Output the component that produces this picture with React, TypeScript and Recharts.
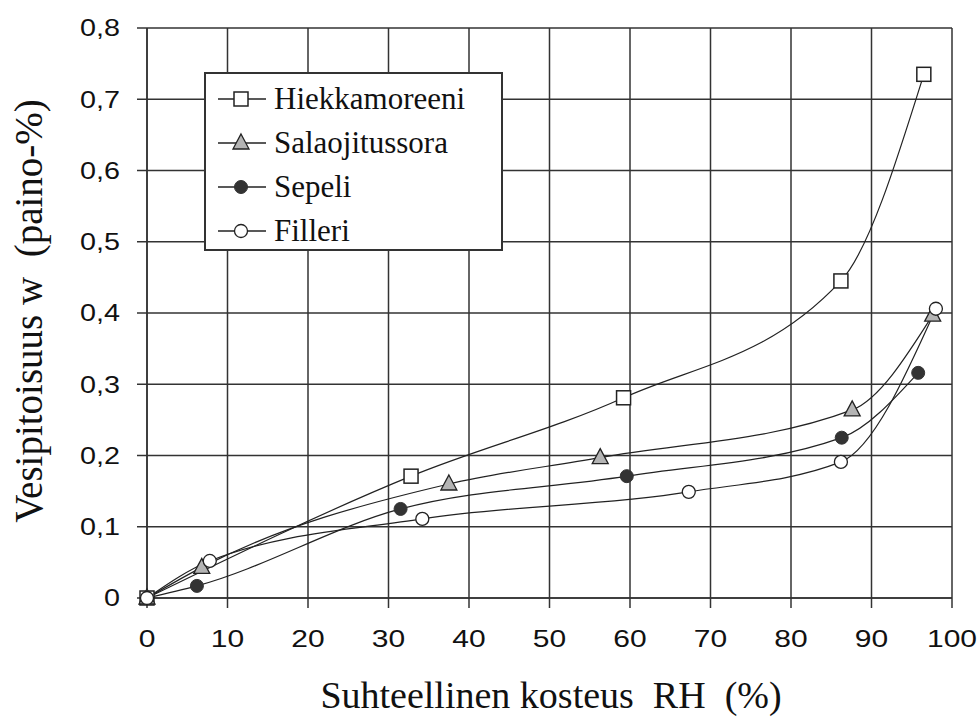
import React from "react"
import { CartesianGrid, Line, LineChart, XAxis, YAxis } from "recharts"

// values (RH %, water content paino-%)
const rhHiekka = [0, 32.8, 59.2, 86.2, 96.5]
const wHiekka = [0, 0.171, 0.281, 0.445, 0.735]

const rhSalao = [0, 6.8, 37.5, 56.3, 87.6, 97.6]
const wSalao = [0, 0.043, 0.16, 0.197, 0.264, 0.397]

const rhSepeli = [0, 6.2, 31.5, 59.6, 86.3, 95.8]
const wSepeli = [0, 0.017, 0.125, 0.171, 0.225, 0.316]

const rhFilleri = [0, 7.8, 34.2, 67.3, 86.2, 98.0]
const wFilleri = [0, 0.052, 0.111, 0.149, 0.191, 0.406]

const rhTicks = [0, 10, 20, 30, 40, 50, 60, 70, 80, 90, 100]
const wTicks = [0, 0.1, 0.2, 0.3, 0.4, 0.5, 0.6, 0.7, 0.8]

const seriesNames = ["Hiekkamoreeni", "Salaojitussora", "Sepeli", "Filleri"]

const toPoints = (xs: number[], ys: number[]) => xs.map((x, i) => ({ x, w: ys[i] }))

const hiekka = toPoints(rhHiekka, wHiekka)
const salao = toPoints(rhSalao, wSalao)
const sepeli = toPoints(rhSepeli, wSepeli)
const filleri = toPoints(rhFilleri, wFilleri)

const INK = "#222"
const GRID = "#333"
const SERIF = "'Liberation Serif', 'Times New Roman', serif"
const SANS = "'Liberation Sans', Arial, sans-serif"

function Marker({ kind, cx, cy }: { kind: number; cx: number; cy: number }) {
  if (kind === 0)
    return <rect x={cx - 7} y={cy - 7} width={14} height={14} fill="#fff" stroke={INK} strokeWidth={1.5} />
  if (kind === 1)
    return (
      <polygon
        points={`${cx},${cy - 9} ${cx + 8},${cy + 6} ${cx - 8},${cy + 6}`}
        fill="#b4b4b4"
        stroke={INK}
        strokeWidth={1.3}
      />
    )
  if (kind === 2) return <circle cx={cx} cy={cy} r={6.5} fill="#333" stroke="#333" />
  return <circle cx={cx} cy={cy} r={6.5} fill="#fff" stroke={INK} strokeWidth={1.3} />
}

const dotFor = (kind: number) => (p: any) =>
  <Marker key={`d${kind}-${p.index}`} kind={kind} cx={p.cx} cy={p.cy} />

function StretchTick(props: any) {
  const { x, y, payload, orientation } = props
  const left = orientation === "left"
  const label = left
    ? (payload.value === 0 ? "0" : payload.value.toFixed(1).replace(".", ","))
    : String(payload.value)
  return (
    <g transform={`translate(${x},${y})`}>
      <text
        transform="scale(1.25,1)"
        textAnchor={left ? "end" : "middle"}
        dy={left ? "0.36em" : "0.72em"}
        fontFamily={SANS}
        fontSize={left ? 23 : 24}
        fill="#111"
      >
        {label}
      </text>
    </g>
  )
}

function LegendBox() {
  return (
    <div
      style={{
        position: "absolute",
        left: 204,
        top: 72,
        width: 295,
        height: 175,
        border: "2px solid #333",
        background: "#fff",
      }}
    >
      {seriesNames.map((name, i) => (
        <div
          key={name}
          style={{ position: "absolute", left: 10, top: 5 + i * 44, height: 40, display: "flex", alignItems: "center" }}
        >
          <svg width={52} height={24}>
            <line x1={2} y1={12} x2={50} y2={12} stroke={INK} strokeWidth={1.3} />
            <Marker kind={i} cx={25} cy={12} />
          </svg>
          <span style={{ fontFamily: SERIF, fontSize: 31, color: "#111", marginLeft: 6, lineHeight: "40px" }}>{name}</span>
        </div>
      ))}
    </div>
  )
}

export default function App() {
  return (
    <div style={{ position: "fixed", left: 0, top: 0, background: "#fff", width: 980, height: 720 }}>
      <LineChart width={980} height={720} margin={{ top: 28, right: 28, bottom: 0, left: 0 }}>
        <CartesianGrid stroke={GRID} strokeWidth={1.5} />
        <XAxis
          type="number"
          dataKey="x"
          domain={[0, 100]}
          ticks={rhTicks}
          interval={0}
          height={122}
          tickSize={10}
          tickMargin={22}
          axisLine={{ stroke: GRID, strokeWidth: 1.5 }}
          tickLine={{ stroke: GRID, strokeWidth: 1.5 }}
          tick={<StretchTick orientation="bottom" />}
          label={{
            content: () => (
              <text x={551} y={708} textAnchor="middle" style={{ whiteSpace: "pre", fontFamily: SERIF, fontSize: 38, fill: "#111" }}>
                {"Suhteellinen kosteus  RH  (%)"}
              </text>
            ),
          }}
        />
        <YAxis
          type="number"
          dataKey="w"
          domain={[0, 0.8]}
          ticks={wTicks}
          interval={0}
          width={147}
          tickSize={10}
          tickMargin={17}
          axisLine={{ stroke: GRID, strokeWidth: 1.5 }}
          tickLine={{ stroke: GRID, strokeWidth: 1.5 }}
          tick={<StretchTick orientation="left" />}
          label={{
            content: () => (
              <text
                x={0}
                y={0}
                transform="translate(42,311) rotate(-90)"
                textAnchor="middle"
                style={{ whiteSpace: "pre", fontFamily: SERIF, fontSize: 39, fill: "#111" }}
              >
                {"Vesipitoisuus w  (paino-%)"}
              </text>
            ),
          }}
        />
        <Line data={hiekka} dataKey="w" name={seriesNames[0]} type="monotone" stroke={INK} strokeWidth={1.2} dot={dotFor(0)} activeDot={false} isAnimationActive={false} />
        <Line data={salao} dataKey="w" name={seriesNames[1]} type="monotone" stroke={INK} strokeWidth={1.2} dot={dotFor(1)} activeDot={false} isAnimationActive={false} />
        <Line data={sepeli} dataKey="w" name={seriesNames[2]} type="monotone" stroke={INK} strokeWidth={1.2} dot={dotFor(2)} activeDot={false} isAnimationActive={false} />
        <Line data={filleri} dataKey="w" name={seriesNames[3]} type="monotone" stroke={INK} strokeWidth={1.2} dot={dotFor(3)} activeDot={false} isAnimationActive={false} />
      </LineChart>
      <LegendBox />
    </div>
  )
}
